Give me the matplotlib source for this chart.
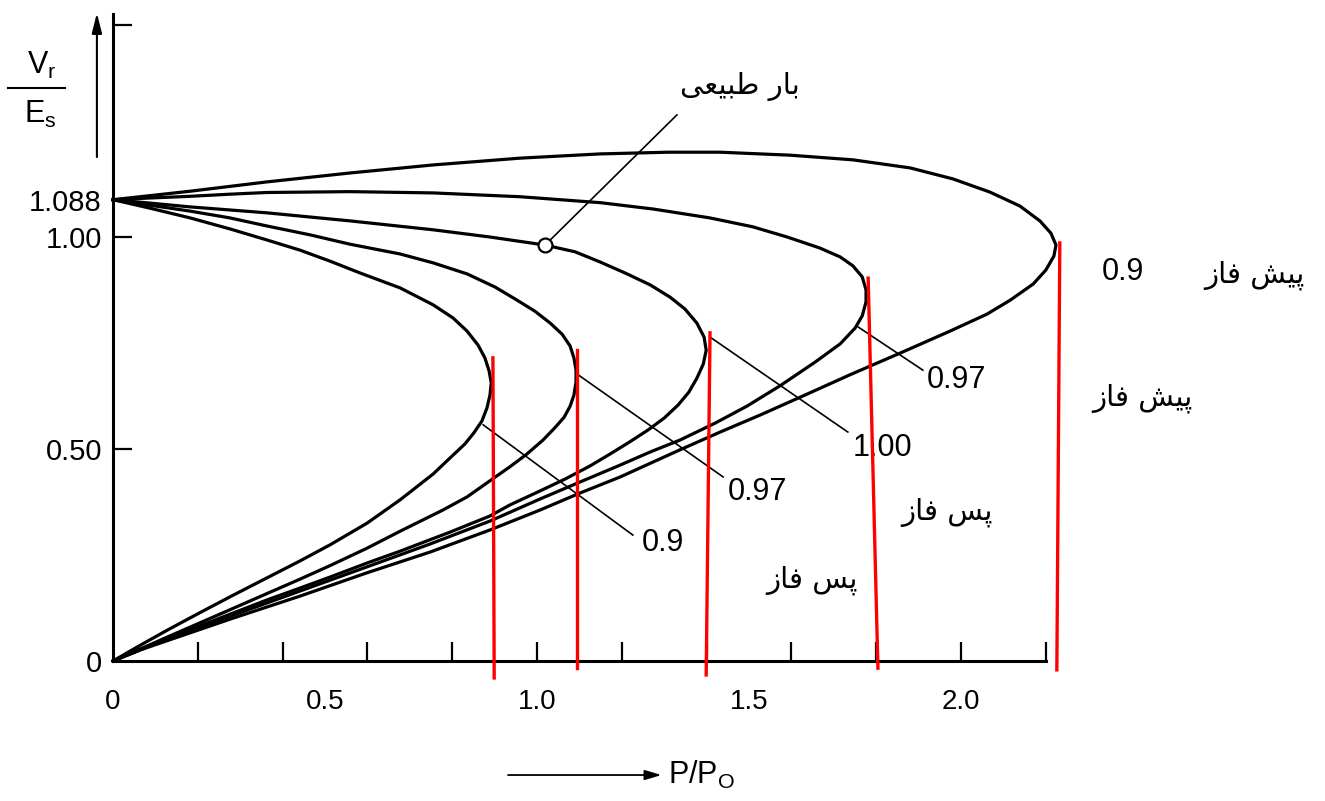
import matplotlib
matplotlib.use("Agg")
import matplotlib.pyplot as plt

plt.rcParams['font.family'] = ['Liberation Sans', 'DejaVu Sans']
plt.rcParams['mathtext.fontset'] = 'custom'
plt.rcParams['mathtext.rm'] = 'Liberation Sans'

# curves (P/Po, Vr/Es), upper branch then lower branch
lag090_x = [0, 0.087, 0.182, 0.276, 0.363, 0.441, 0.512, 0.583, 0.677, 0.755, 0.802, 0.835,
            0.861, 0.877, 0.887, 0.892, 0.889, 0.882, 0.870, 0.851, 0.830, 0.795, 0.755, 0.677,
            0.599, 0.512, 0.441, 0.363, 0.283, 0.205, 0.134, 0.064, 0]
lag090_y = [1.088, 1.068, 1.045, 1.019, 0.993, 0.969, 0.943, 0.915, 0.880, 0.840, 0.809, 0.778,
            0.745, 0.715, 0.684, 0.656, 0.627, 0.597, 0.566, 0.538, 0.512, 0.479, 0.441, 0.380,
            0.325, 0.274, 0.236, 0.196, 0.155, 0.114, 0.076, 0.037, 0]

lag097_x = [0, 0.087, 0.182, 0.276, 0.363, 0.465, 0.559, 0.677, 0.755, 0.835, 0.901, 0.953, 0.995,
            1.031, 1.059, 1.078, 1.087, 1.092, 1.092, 1.087, 1.078, 1.064, 1.042, 1.014, 0.976,
            0.936, 0.889, 0.835, 0.778, 0.677, 0.599, 0.512, 0.441, 0.363, 0.283, 0.205, 0.127,
            0.064, 0]
lag097_y = [1.088, 1.075, 1.061, 1.045, 1.026, 1.005, 0.983, 0.960, 0.939, 0.913, 0.882, 0.851, 0.825,
            0.797, 0.771, 0.743, 0.715, 0.686, 0.658, 0.627, 0.601, 0.575, 0.550, 0.521, 0.488,
            0.458, 0.425, 0.387, 0.356, 0.306, 0.266, 0.225, 0.193, 0.159, 0.124, 0.090, 0.056,
            0.028, 0]

unity_x = [0, 0.087, 0.182, 0.363, 0.559, 0.755, 0.889, 1.019, 1.090, 1.149, 1.208, 1.267, 1.314,
           1.349, 1.377, 1.394, 1.399, 1.392, 1.377, 1.358, 1.333, 1.300, 1.262, 1.219, 1.172,
           1.125, 1.066, 1.007, 0.936, 0.889, 0.795, 0.677, 0.599, 0.512, 0.441, 0.363, 0.283,
           0.205, 0.127, 0.064, 0]
unity_y = [1.088, 1.080, 1.071, 1.057, 1.038, 1.017, 1.000, 0.981, 0.965, 0.941, 0.915, 0.887, 0.858,
           0.830, 0.797, 0.764, 0.733, 0.700, 0.667, 0.634, 0.604, 0.573, 0.545, 0.517, 0.488,
           0.460, 0.429, 0.401, 0.368, 0.342, 0.304, 0.259, 0.231, 0.198, 0.172, 0.144, 0.113,
           0.083, 0.052, 0.026, 0]

lead097_x = [0, 0.087, 0.182, 0.276, 0.363, 0.559, 0.755, 0.960, 1.149, 1.274, 1.408, 1.509, 1.590,
             1.667, 1.715, 1.745, 1.767, 1.776, 1.776, 1.767, 1.750, 1.715, 1.656, 1.573, 1.495,
             1.420, 1.337, 1.267, 1.196, 1.101, 1.007, 0.889, 0.748, 0.599, 0.441, 0.283, 0.134,
             0.064, 0]
lead097_y = [1.088, 1.092, 1.096, 1.101, 1.105, 1.107, 1.104, 1.095, 1.081, 1.066, 1.045, 1.024, 1.000,
             0.974, 0.953, 0.932, 0.906, 0.875, 0.847, 0.814, 0.785, 0.748, 0.705, 0.649, 0.601,
             0.561, 0.521, 0.493, 0.462, 0.422, 0.382, 0.330, 0.276, 0.222, 0.165, 0.108, 0.054,
             0.028, 0]

lead090_x = [0, 0.182, 0.363, 0.559, 0.755, 0.960, 1.149, 1.309, 1.432, 1.597, 1.745, 1.880, 1.981,
             2.068, 2.139, 2.186, 2.212, 2.224, 2.219, 2.200, 2.170, 2.116, 2.061, 1.974, 1.856,
             1.738, 1.627, 1.526, 1.432, 1.337, 1.196, 1.101, 1.007, 0.889, 0.748, 0.599, 0.441,
             0.283, 0.134, 0.064, 0]
lead090_y = [1.088, 1.108, 1.130, 1.151, 1.170, 1.186, 1.196, 1.200, 1.200, 1.193, 1.182, 1.163, 1.137,
             1.106, 1.073, 1.038, 1.009, 0.981, 0.955, 0.922, 0.889, 0.851, 0.818, 0.778, 0.726,
             0.675, 0.625, 0.580, 0.540, 0.498, 0.434, 0.396, 0.356, 0.309, 0.257, 0.208, 0.153,
             0.101, 0.050, 0.026, 0]

# red marker lines at the nose of each curve
red_top_x = [0.896, 1.094, 1.408, 1.781, 2.233]
red_top_y = [0.715, 0.733, 0.774, 0.903, 0.986]
red_bot_x = [0.899, 1.094, 1.399, 1.804, 2.226]
red_bot_y = [-0.040, -0.017, -0.033, -0.017, -0.021]

# power factor labels with their leader lines
pf_labels = ["0.9", "0.97", "1.00", "0.97", "0.9"]
lead_x0 = [0.873, 1.097, 1.408, 1.757, 2.226]
lead_y0 = [0.557, 0.675, 0.764, 0.788, 0.986]
lead_x1 = [1.226, 1.439, 1.733, 1.910, 2.316]
lead_y1 = [0.297, 0.434, 0.540, 0.686, 0.934]
label_x = [1.248, 1.450, 1.745, 1.920, 2.333]
label_y = [0.278, 0.399, 0.502, 0.663, 0.917]

# Persian region labels (presentation forms, visual order)
lead_txt = "\uFEAF\uFE8E\uFED3 \uFEB6\uFBFF\uFB58"     # pish faz
lag_txt = "\uFEAF\uFE8E\uFED3 \uFEB2\uFB58"            # pas faz
natural_txt = "\uFBFD\uFECC\uFBFF\uFE92\uFEC3 \uFEAD\uFE8E\uFE91"  # bar tabiei
fa_texts = [lead_txt, lead_txt, lag_txt, lag_txt]
fa_x = [2.693, 2.427, 1.967, 1.649]
fa_y = [0.910, 0.620, 0.351, 0.191]

natural_pt = (1.019, 0.981)
natural_leader_end = (1.330, 1.288)
natural_label = (1.479, 1.354)

xtick_pos = [0, 0.5, 1.0, 1.5, 2.0]
xtick_labels = ["0", "0.5", "1.0", "1.5", "2.0"]
xminor_pos = [0.2, 0.4, 0.6, 0.8, 1.0, 1.2, 1.4, 1.6, 1.8, 2.0, 2.2]
ytick_pos = [0, 0.5, 1.0, 1.088]
ytick_labels = ["0", "0.50", "1.00", "1.088"]
yminor_pos = [0.5, 1.0, 1.5]

fig = plt.figure(figsize=(13.25, 8.01), dpi=100)
ax = fig.add_axes([0.0853, 0.1748, 0.704, 0.8072])
ax.set_xlim(0, 2.2)
ax.set_ylim(0, 1.525)

lw = 2.3
for xs, ys in [(lag090_x, lag090_y), (lag097_x, lag097_y), (unity_x, unity_y),
               (lead097_x, lead097_y), (lead090_x, lead090_y)]:
    ax.plot(xs, ys, color="black", lw=lw, solid_joinstyle="round", clip_on=False, zorder=3)

for i in range(len(pf_labels)):
    ax.plot([lead_x0[i], lead_x1[i]], [lead_y0[i], lead_y1[i]], color="black", lw=1.2, zorder=3)
    ax.text(label_x[i], label_y[i], pf_labels[i], fontsize=22, ha="left", va="center", clip_on=False)

for i in range(len(red_top_x)):
    ax.plot([red_top_x[i], red_bot_x[i]], [red_top_y[i], red_bot_y[i]], color="red", lw=2.4,
            clip_on=False, zorder=4)

# natural load point
ax.plot([natural_pt[0], natural_leader_end[0]], [natural_pt[1], natural_leader_end[1]],
        color="black", lw=1.2, zorder=3)
ax.plot(*natural_pt, marker="o", ms=10, mfc="white", mec="black", mew=1.6, zorder=5)
ax.text(*natural_label, natural_txt, family=["DejaVu Sans"], fontsize=21, ha="center", va="center")

for t, x, y in zip(fa_texts, fa_x, fa_y):
    ax.text(x, y, t, family=["DejaVu Sans"], fontsize=21, ha="center", va="center", clip_on=False)

# axes
for s in ["top", "right"]:
    ax.spines[s].set_visible(False)
for s in ["left", "bottom"]:
    ax.spines[s].set_linewidth(2.2)
ax.xaxis.remove_overlapping_locs = False
ax.yaxis.remove_overlapping_locs = False
ax.set_xticks(xtick_pos)
ax.set_xticklabels(xtick_labels)
ax.set_xticks(xminor_pos, minor=True)
ax.set_yticks(ytick_pos)
ax.set_yticklabels(ytick_labels)
ax.set_yticks(yminor_pos, minor=True)
ax.tick_params(axis="x", which="major", length=0, pad=20, labelsize=20)
ax.tick_params(axis="y", which="major", length=0, pad=8, labelsize=21)
ax.tick_params(which="minor", direction="in", length=14, width=1.6)

# axis titles with arrows
ax.annotate("", xy=(-0.038, 1.535), xytext=(-0.038, 1.182), xycoords="data",
            arrowprops=dict(arrowstyle="-|>,head_length=1.2,head_width=0.3", color="black", lw=1.5),
            annotation_clip=False)
ax.text(-0.168, 1.405, r"$\mathregular{V_r}$", fontsize=22, ha="center", va="center")
ax.plot([-0.248, -0.113], [1.351, 1.351], color="black", lw=1.5, clip_on=False)
ax.text(-0.172, 1.290, r"$\mathregular{E_s}$", fontsize=22, ha="center", va="center")

ax.annotate("", xy=(1.300, -0.269), xytext=(0.925, -0.269), xycoords="data",
            arrowprops=dict(arrowstyle="-|>,head_length=1.0,head_width=0.3", color="black", lw=1.3),
            annotation_clip=False)
ax.text(1.309, -0.269, r"$\mathregular{P/P_O}$", fontsize=22, ha="left", va="center")

fig.savefig("out.png", dpi=100, facecolor="white")
